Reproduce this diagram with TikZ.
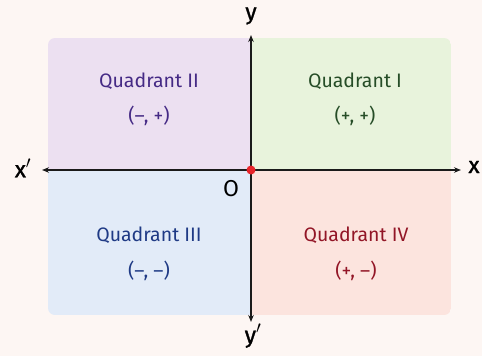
\documentclass[tikz,border=0pt]{standalone}
\usepackage{fontspec}
\setmainfont{Fira Sans}
\newfontfamily\axfont[FakeBold=1.2]{Fira Sans}
\usetikzlibrary{arrows.meta}
\definecolor{bgc}{HTML}{FDF6F3}
\definecolor{q1f}{HTML}{E8F3DC}
\definecolor{q2f}{HTML}{ECE0F1}
\definecolor{q3f}{HTML}{E2EBF8}
\definecolor{q4f}{HTML}{FCE4DE}
\definecolor{q1t}{HTML}{264D27}
\definecolor{q2t}{HTML}{452A85}
\definecolor{q3t}{HTML}{1F3A85}
\definecolor{q4t}{HTML}{921526}
\definecolor{axc}{HTML}{1A1A1A}
\definecolor{dotc}{HTML}{E8242A}
\begin{document}
\begin{tikzpicture}[x=1pt,y=-1pt,
  qlabel/.style={font=\fontsize{19.5}{22}\selectfont, align=center},
  axlabel/.style={font=\axfont\fontsize{23}{25}\selectfont, text=black},
  axis/.style={draw=axc, line width=1.8pt, -{Stealth[length=7pt,width=5.5pt]}}]
\fill[bgc] (0,0) rectangle (482,356);
\useasboundingbox (0,0) rectangle (482,356);
\begin{scope}
\clip[rounded corners=7pt] (48,38) rectangle (451,315);
\fill[q1f] (251,38) rectangle (451,170);
\fill[q2f] (48,38) rectangle (251,170);
\fill[q3f] (48,170) rectangle (251,315);
\fill[q4f] (251,170) rectangle (451,315);
\end{scope}
\coordinate (O) at (251,170);
\coordinate (xl) at (42,170);
\coordinate (xr) at (461,170);
\coordinate (yt) at (251,35);
\coordinate (yb) at (251,322);
\draw[axis] (O) -- (xr);
\draw[axis] (O) -- (xl);
\draw[axis] (O) -- (yt);
\draw[axis] (O) -- (yb);
\fill[dotc] (O) circle (4.5pt);
\node[axlabel] (ly) at (251,16) {y};
\node[axlabel] (lyp) at (253,336) {y$'$};
\node[axlabel] (lxp) at (23,168) {x$'$};
\node[axlabel] (lx) at (474,167) {x};
\node[font=\fontsize{23}{25}\selectfont, text=black] (lo) at (231,189) {O};
\node[qlabel, text=q2t] (q2) at (149,81) {Quadrant II};
\node[qlabel, text=q2t] (q2s) at (149,116) {(–, +)};
\node[qlabel, text=q1t] (q1) at (355,81) {Quadrant I};
\node[qlabel, text=q1t] (q1s) at (355,116) {(+, +)};
\node[qlabel, text=q3t] (q3) at (149,235) {Quadrant III};
\node[qlabel, text=q3t] (q3s) at (149,271) {(–, –)};
\node[qlabel, text=q4t] (q4) at (356,235) {Quadrant IV};
\node[qlabel, text=q4t] (q4s) at (356,271) {(+, –)};
\end{tikzpicture}
\end{document}
